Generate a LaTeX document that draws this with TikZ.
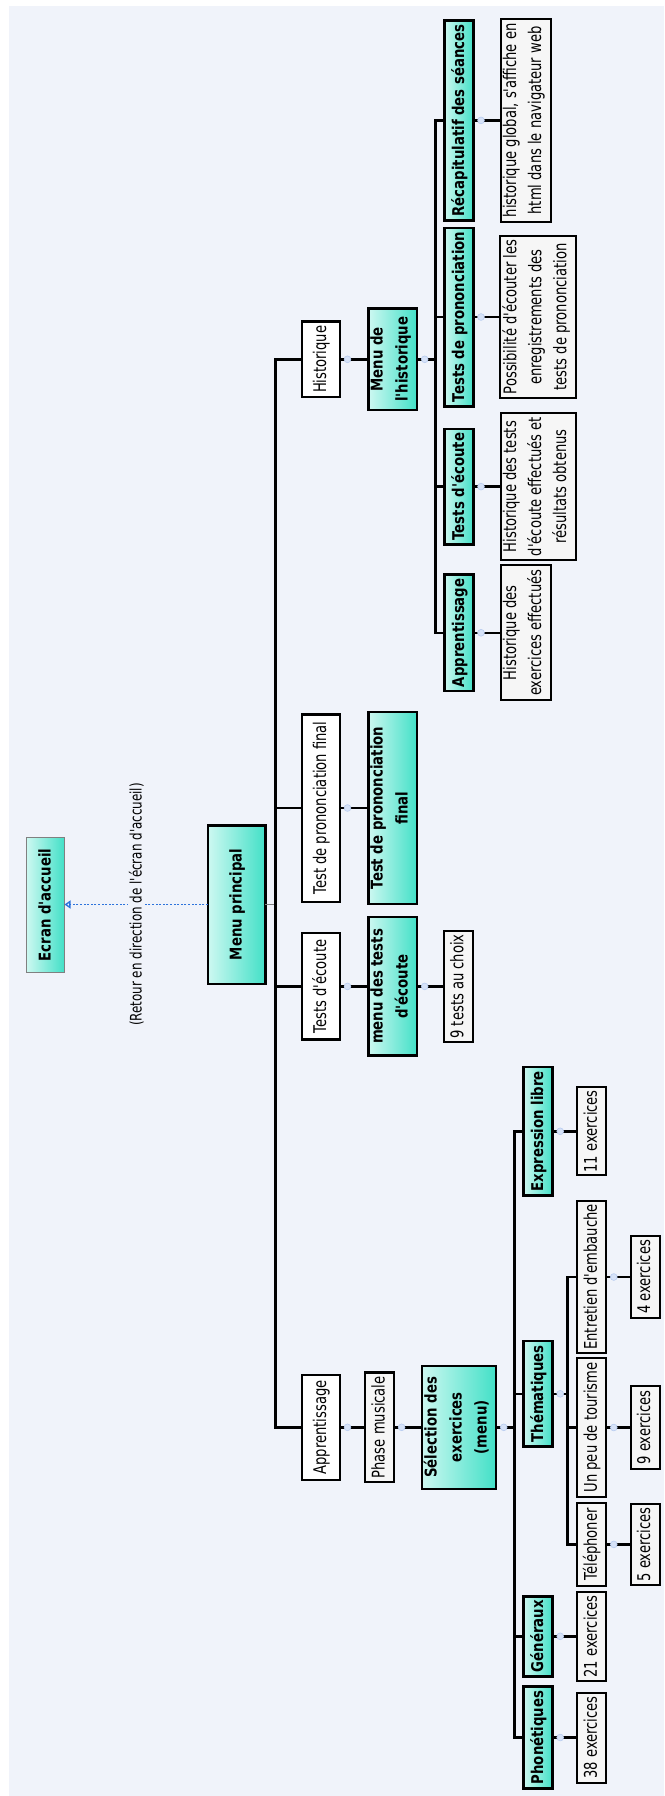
\documentclass[tikz,border=0pt]{standalone}
\usepackage{fontspec}
\newfontfamily\dejavu{DejaVu Sans}[FakeStretch=0.75]
\newfontfamily\dejavugras{DejaVu Sans}[FakeStretch=0.82]
\usetikzlibrary{arrows.meta,backgrounds}
\definecolor{fond}{RGB}{240,243,250}
\definecolor{turqclair}{RGB}{205,248,241}
\definecolor{turqfonce}{RGB}{66,224,199}
\definecolor{gristexte}{RGB}{246,246,246}
\definecolor{bleuretour}{RGB}{45,115,220}
\definecolor{pucefond}{RGB}{214,226,248}
\definecolor{pucebord}{RGB}{184,204,240}
\tikzset{
  boite/.style={rotate=90, draw=black, line width=2.5pt, inner xsep=4pt, inner ysep=2pt,
    outer sep=0pt, align=center, font=\dejavu\fontsize{17.5}{25}\selectfont,
    execute at begin node=\strut, execute at end node=\strut},
  titre/.style={boite, font=\dejavugras\bfseries\fontsize{16.2}{25}\selectfont},
  degrade/.style={left color=turqclair, right color=turqfonce},
  choix/.style={boite, fill=white, minimum height=38},
  detail/.style={boite, line width=2pt, inner xsep=3pt, fill=gristexte},
  lien/.style={line width=2.5pt, black},
  fin/.style={line width=1pt, gray},
  puce/.style={fill=pucefond, draw=pucebord, line width=0.6pt},
  retour/.style={bleuretour, line width=1.4pt, dash pattern=on 2pt off 1.6pt,
    -{Triangle[open, length=6pt, width=8pt]}},
  etiquette/.style={rotate=90, fill=fond, text=black, inner sep=1pt, font=\dejavu\fontsize{15.9}{18}\selectfont}
}
\begin{document}
\begin{tikzpicture}[x=1pt,y=1pt]
	\useasboundingbox (0,0) rectangle (664,-1796);
	\begin{scope}[on background layer]
		\fill[white] (0,0) rectangle (664,-1796);
		\fill[fond] (9.3,-6) rectangle (664,-1796);
	\end{scope}
	% racine
	\node[titre, draw=gray, line width=1pt, minimum width=135, minimum height=38] (ecran) at (45.5,-905) {Ecran d'accueil};
	\node[titre, minimum width=158.5, minimum height=57.5] (mp) at (236.7,-904.5) {Menu principal};
	% premier niveau
	\node[choix, minimum width=105] (appr) at (321,-1427.3) {Apprentissage};
	\node[choix, minimum width=106.5] (tec) at (321,-986.4) {Tests d'écoute};
	\node[choix, minimum width=187.5] (tpf) at (321,-808) {Test de prononciation final};
	\node[choix, minimum width=75] (hist) at (321,-359.3) {Historique};
	% second niveau
	\node[detail, line width=2.5pt, minimum width=109.5] (phase) at (379.6,-1427.3) {Phase musicale};
	\node[titre, minimum width=138.5] (mte) at (392.8,-986.4) {menu des tests\\d'écoute};
	\node[titre, minimum width=192] (tpfb) at (392.8,-808) {Test de prononciation\\final};
	\node[titre, minimum width=101.5] (mh) at (392.8,-359.3) {Menu de\\l'historique};
	% menus
	\node[titre, minimum width=123] (sel) at (459,-1427.3) {Sélection des\\exercices\\(menu)};
	\node[detail, minimum width=103.5] (neuf) at (458.4,-986.4) {9 tests au choix};
	\node[titre, minimum width=116] (ha) at (459,-632.8) {Apprentissage};
	\node[titre, minimum width=115.3] (hte) at (459,-486.6) {Tests d'écoute};
	\node[titre, minimum width=178.5] (htp) at (459,-317) {Tests de prononciation};
	\node[titre, minimum width=199] (hrs) at (459,-120.4) {Récapitulatif des séances};
	\node[detail, minimum width=134.7] (hat) at (525.7,-632.8) {Historique des\\exercices effectués};
	\node[detail, minimum width=147.2] (htet) at (538.2,-486.6) {Historique des tests\\d'écoute effectués et\\résultats obtenus};
	\node[detail, minimum width=161.8] (htpt) at (538.2,-317) {Possibilité d'écouter les\\enregistrements des\\tests de prononciation};
	\node[detail, minimum width=203] (hrst) at (525.7,-120.4) {historique global, s'affiche en\\html dans le navigateur web};
	% exercices
	\node[titre, minimum width=128.4] (expr) at (538.2,-1131.3) {Expression libre};
	\node[titre, minimum width=105.4] (them) at (538.2,-1393.8) {Thématiques};
	\node[titre, minimum width=80] (gen) at (538.2,-1636.3) {Généraux};
	\node[titre, minimum width=101.5] (phon) at (538.2,-1737.5) {Phonétiques};
	\node[detail, minimum width=88] (onze) at (591.8,-1131.3) {11 exercices};
	\node[detail, minimum width=149.3] (ent) at (591.8,-1277) {Entretien d'embauche};
	\node[detail, minimum width=138.7] (tour) at (591.8,-1427.5) {Un peu de tourisme};
	\node[detail, minimum width=82.7] (tel) at (591.8,-1544.4) {Téléphoner};
	\node[detail, minimum width=89.3] (vingt) at (591.8,-1636.3) {21 exercices};
	\node[detail, minimum width=90] (trente) at (591.8,-1737.5) {38 exercices};
	\node[detail, minimum width=82] (quatre) at (645.1,-1277) {4 exercices};
	\node[detail, minimum width=82.4] (neufex) at (645.1,-1427.5) {9 exercices};
	\node[detail, minimum width=80.9] (cinq) at (645.1,-1544.4) {5 exercices};
	% degrades des titres
	\begin{scope}[on background layer]
		\foreach \n in {ecran,mp,mte,tpfb,mh,sel,ha,hte,htp,hrs,expr,them,gen,phon}
			\shade[degrade] (\n.north west) rectangle (\n.south east);
	\end{scope}
	% barres
	\coordinate (busmp) at (275.7,-904.5);
	\coordinate (bushist) at (435.3,-359.3);
	\coordinate (bussel) at (514.5,-1427.3);
	\coordinate (busthem) at (567.5,-1393.8);
	\draw[fin] (mp.south) -- (busmp);
	\draw[lien] (appr.north) -| (busmp) |- (hist.north);
	\draw[lien] (busmp) |- (tec.north);
	\draw[lien] (busmp) |- (tpf.north);
	\draw[lien] (phon.north) -| (bussel) |- (expr.north);
	\foreach \n in {gen,them} \draw[lien] (bussel) |- (\n.north);
	\draw[lien] (sel.south) -- (bussel);
	\draw[lien] (tel.north) -| (busthem) |- (ent.north);
	\draw[lien] (busthem) |- (tour.north);
	\draw[lien] (them.south) -- (busthem);
	\draw[lien] (ha.north) -| (bushist) |- (hrs.north);
	\foreach \n in {hte,htp} \draw[lien] (bushist) |- (\n.north);
	\draw[lien] (mh.south) -- (bushist);
	\foreach \a/\b in {appr/phase,phase/sel,tec/mte,mte/neuf,tpf/tpfb,hist/mh,ha/hat,hte/htet,htp/htpt,hrs/hrst,expr/onze,gen/vingt,phon/trente,ent/quatre,tour/neufex,tel/cinq}
		\draw[lien] (\a.south) -- (\b.north);
	\foreach \n in {appr,phase,sel,tec,mte,tpf,hist,mh,ha,hte,htp,hrs,expr,gen,phon,them,ent,tour,tel}
		\filldraw[puce] ([xshift=7.5pt]\n.south) circle (3.4pt);
	% retour
	\draw[retour] (mp.north) -- node[etiquette] (ret) {(Retour en direction de l'écran d'accueil)} (mp.north -| ecran.south);
\end{tikzpicture}
\end{document}
